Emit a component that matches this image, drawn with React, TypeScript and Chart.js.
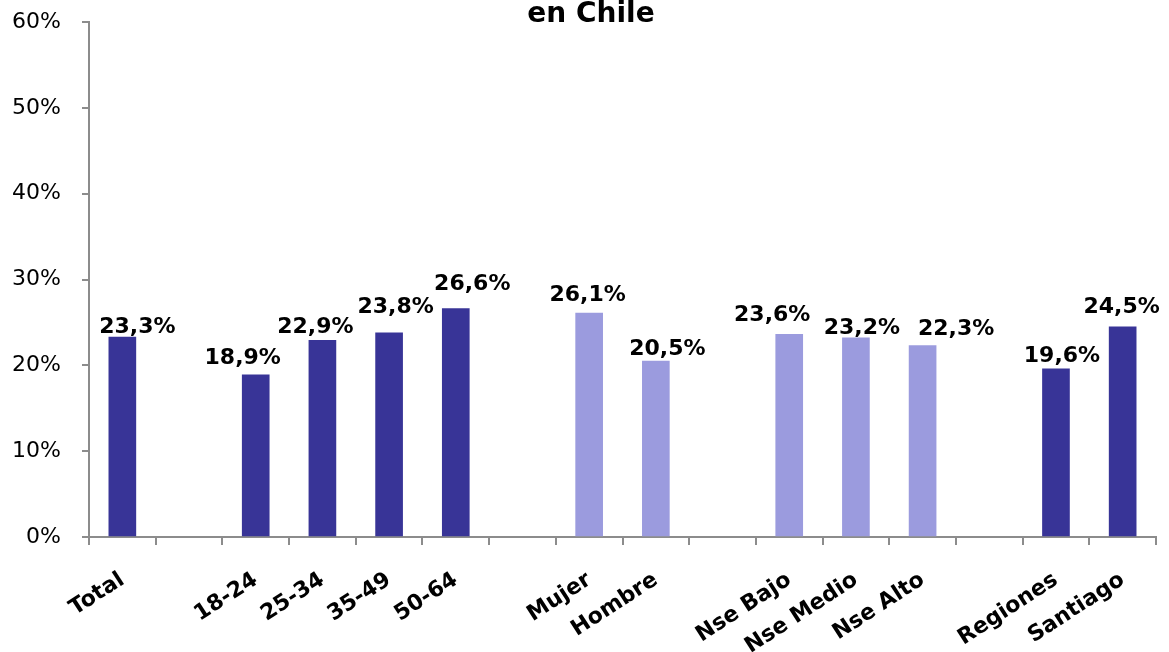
import React, { useEffect, useRef } from "react";
import { Chart, registerables } from "chart.js";

Chart.register(...registerables);

const categories = [
  "Total", "", "18-24", "25-34", "35-49", "50-64", "",
  "Mujer", "Hombre", "", "Nse Bajo", "Nse Medio", "Nse Alto", "",
  "Regiones", "Santiago",
];
const values: (number | null)[] = [
  23.3, null, 18.9, 22.9, 23.8, 26.6, null,
  26.1, 20.5, null, 23.6, 23.2, 22.3, null,
  19.6, 24.5,
];
const groups = [
  "dark", "", "dark", "dark", "dark", "dark", "",
  "light", "light", "", "light", "light", "light", "",
  "dark", "dark",
];
const yTicks = [0, 10, 20, 30, 40, 50, 60];
const titleText = "en Chile";

// label placement tweaks (dx px, px above bar top)
const labelShift: [number, number][] = [
  [15, 4], [0, 0], [-13, 11], [-7, 7], [6.5, 20], [16.5, 19], [0, 0],
  [-1.5, 12], [11.5, 6], [0, 0], [-17, 13], [6, 4], [33.5, 11], [0, 0],
  [6, 7], [-1, 14],
];

const DARK = "#383497";
const LIGHT = "#9b9bde";
const AXIS = "#8c8c8c";
const FONT = "'DejaVu Sans', sans-serif";

const fmt = (v: number) => v.toFixed(1).replace(".", ",") + "%";

const labelPlugin = {
  id: "valueLabels",
  afterDatasetsDraw(chart: any) {
    const ctx = chart.ctx;
    const meta = chart.getDatasetMeta(0);
    ctx.save();
    ctx.font = `bold 22px ${FONT}`;
    ctx.fillStyle = "#000";
    ctx.textAlign = "center";
    ctx.textBaseline = "alphabetic";
    meta.data.forEach((bar: any, i: number) => {
      const v = values[i];
      if (v == null) return;
      const [dx, dy] = labelShift[i];
      ctx.fillText(fmt(v), bar.x + dx, bar.y - dy);
    });
    ctx.restore();
  },
};

const titlePlugin = {
  id: "topTitle",
  afterDraw(chart: any) {
    const ctx = chart.ctx;
    ctx.save();
    ctx.font = `bold 28px ${FONT}`;
    ctx.fillStyle = "#000";
    ctx.textAlign = "center";
    ctx.textBaseline = "alphabetic";
    ctx.fillText(titleText, 591, 22);
    ctx.restore();
  },
};

export default function App() {
  const ref = useRef<HTMLCanvasElement | null>(null);
  useEffect(() => {
    if (!ref.current) return;
    const chart = new Chart(ref.current, {
      type: "bar",
      data: {
        labels: categories,
        datasets: [
          {
            data: values as any,
            backgroundColor: groups.map((g) => (g === "light" ? LIGHT : DARK)),
            barThickness: 27,
            borderWidth: 0,
          },
        ],
      },
      options: {
        responsive: false,
        animation: false,
        layout: { padding: { left: 0, right: 13, top: 22, bottom: 0 } },
        plugins: {
          legend: { display: false },
          tooltip: { enabled: false },
          title: { display: false },
        },
        scales: {
          x: {
            grid: {
              display: true,
              drawOnChartArea: false,
              drawTicks: true,
              tickLength: 8,
              color: AXIS,
              lineWidth: 2,
              offset: true,
            },
            border: { display: true, color: AXIS, width: 2 },
            ticks: {
              autoSkip: false,
              minRotation: 33,
              maxRotation: 33,
              padding: 22,
              color: "#000",
              font: { family: FONT, size: 22, weight: "bold" },
            },
            afterFit(scale: any) {
              scale.height = 115;
            },
          },
          y: {
            min: 0,
            max: 60,
            afterBuildTicks(scale: any) {
              scale.ticks = yTicks.map((v) => ({ value: v }));
            },
            grid: {
              display: true,
              drawOnChartArea: false,
              drawTicks: true,
              tickLength: 7,
              color: AXIS,
              lineWidth: 2,
            },
            border: { display: true, color: AXIS, width: 2 },
            ticks: {
              padding: 21,
              color: "#000",
              font: { family: FONT, size: 22 },
              callback: (v: any) => v + "%",
            },
            afterFit(scale: any) {
              scale.width = 89;
              scale.paddingTop = 0;
              scale.paddingBottom = 0;
            },
          },
        },
      },
      plugins: [labelPlugin, titlePlugin],
    });
    return () => chart.destroy();
  }, []);
  return (
    <div style={{ position: "absolute", left: 0, top: 0, width: 1169, height: 652, background: "#fff" }}>
      <canvas ref={ref} width={1169} height={652} />
    </div>
  );
}
